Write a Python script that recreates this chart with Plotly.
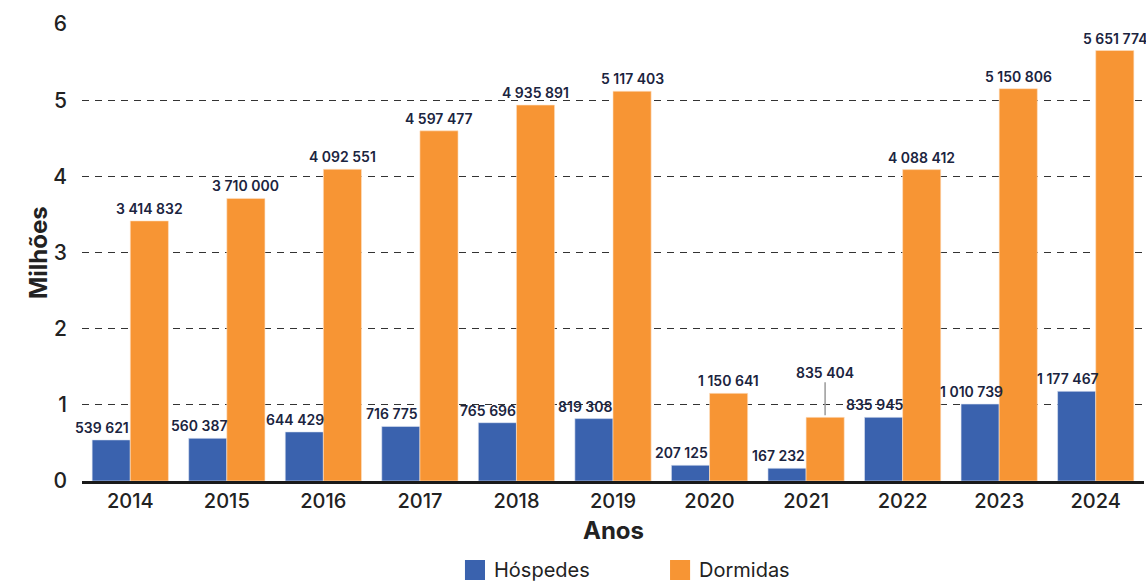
import plotly.graph_objects as go

years = ["2014", "2015", "2016", "2017", "2018", "2019", "2020", "2021", "2022", "2023", "2024"]
hospedes = [539621, 560387, 644429, 716775, 765696, 819308, 207125, 167232, 835945, 1010739, 1177467]
dormidas = [3414832, 3710000, 4092551, 4597477, 4935891, 5117403, 1150641, 835404, 4088412, 5150806, 5651774]
series_names = ["Hóspedes", "Dormidas"]

BLUE = "#3a62ae"
ORANGE = "#f79534"
LABEL = "#1b2440"
FONT = "Inter, Roboto, sans-serif"


def _fmt(v):
    return f"{v:,}".replace(",", " ")


fig = go.Figure()
fig.add_trace(go.Bar(x=years, y=[v / 1e6 for v in hospedes], name=series_names[0],
                     marker={"color": BLUE, "line": {"color": "#dfe6f3", "width": 0.6}}))
fig.add_trace(go.Bar(x=years, y=[v / 1e6 for v in dormidas], name=series_names[1],
                     marker={"color": ORANGE, "line": {"color": "#fde3c8", "width": 0.6}}))

label_font = {"family": FONT, "size": 14, "color": LABEL, "weight": 600}
annotations = []
# category axis: annotations positioned by category index
for i, (yr, h, d) in enumerate(zip(years, hospedes, dormidas)):
    annotations.append(dict(x=i, y=h / 1e6, text=_fmt(h), showarrow=False, yanchor="bottom",
                            xshift=-28, yshift=2, font=label_font))
    if yr == "2021":
        # raised label with leader line
        annotations.append(dict(x=i, y=d / 1e6, text=_fmt(d), showarrow=True, arrowhead=0,
                                arrowwidth=1.5, arrowcolor="#9a9a9a", ax=0, ay=-45, standoff=2,
                                xshift=19, font=label_font))
    else:
        annotations.append(dict(x=i, y=d / 1e6, text=_fmt(d), showarrow=False, yanchor="bottom",
                                xshift=19, yshift=2, font=label_font))

title_font = {"family": FONT, "size": 24, "color": "#222"}
annotations.append(dict(text="<b>Milhões</b>", xref="paper", yref="paper", x=-0.0565, y=0.5,
                        textangle=-90, showarrow=False, font=title_font))
annotations.append(dict(text="<b>Anos</b>", xref="paper", yref="paper", x=0.5, y=-0.109,
                        showarrow=False, yanchor="middle", font=title_font))

# legend drawn by hand so the swatches match the original's larger squares
shapes = []
legend_items = [(series_names[0], BLUE, 0.3606), (series_names[1], ORANGE, 0.5537)]
for name, color, x0 in legend_items:
    shapes.append(dict(type="rect", xref="paper", yref="paper", x0=x0, x1=x0 + 0.0189,
                       y0=-0.2166, y1=-0.1729, fillcolor=color, line={"width": 0}))
    annotations.append(dict(text=name, xref="paper", yref="paper", x=x0 + 0.0255, y=-0.1947,
                            xanchor="left", yanchor="middle", showarrow=False,
                            font={"family": FONT, "size": 20, "color": "#222"}))

fig.update_layout(
    width=1146,
    height=581,
    margin={"l": 82, "r": 2, "t": 24, "b": 100, "autoexpand": False},
    paper_bgcolor="white",
    plot_bgcolor="white",
    font={"family": FONT, "color": "#222"},
    barmode="group",
    bargap=0.21,
    bargroupgap=0,
    annotations=annotations,
    shapes=shapes,
    showlegend=False,
)
fig.update_xaxes(type="category", range=[-0.5, len(years) - 0.5], showline=True, linecolor="#1a1a1a",
                 linewidth=3, ticks="", showgrid=False, automargin=False,
                 tickfont={"family": FONT, "size": 20, "color": "#222", "weight": 500})
fig.update_yaxes(range=[0, 6], dtick=1, showgrid=True, gridcolor="#333", gridwidth=1,
                 griddash="7px,6px", zeroline=False, ticklabelstandoff=14, automargin=False,
                 tickfont={"family": FONT, "size": 21, "color": "#222", "weight": 500})

fig.write_html("out.html", config={"displayModeBar": False},
               post_script="document.body.style.margin='0';")
